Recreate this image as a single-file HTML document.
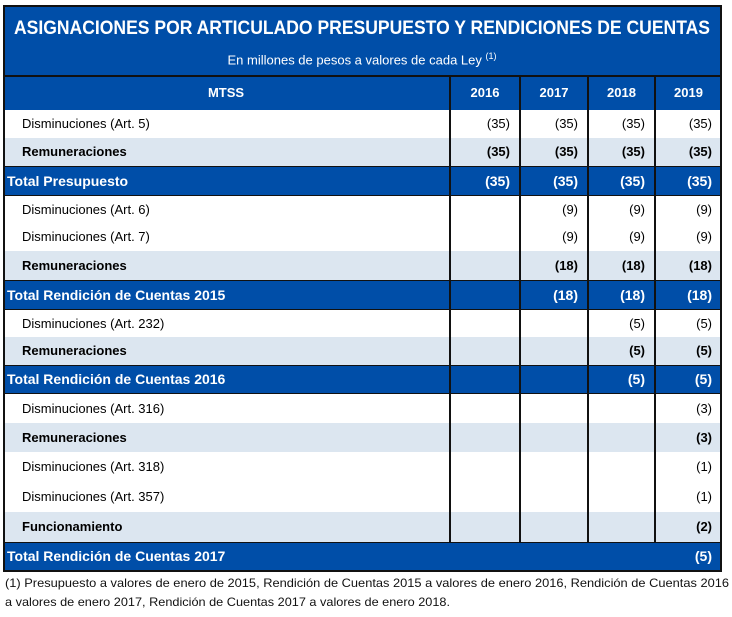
<!DOCTYPE html>
<html><head><meta charset="utf-8">
<style>
body{margin:0;width:732px;height:617px;background:#fff;position:relative;font-family:"Liberation Sans",sans-serif;overflow:hidden}
.a{position:absolute;box-sizing:border-box}
.fit{white-space:nowrap;transform-origin:left center;display:inline-block}
</style></head><body>
<div class="a" style="left:3px;top:5px;width:719px;height:71px;background:#004ea8;border:2px solid #111;border-bottom:none"></div>
<div class="a" style="left:14px;top:16px;height:26px;color:#fff;font-weight:bold;font-size:19px;line-height:26px"><span class="fit" data-w="696">ASIGNACIONES POR ARTICULADO PRESUPUESTO Y RENDICIONES DE CUENTAS</span></div>
<div class="a" style="left:0;width:724px;top:46px;text-align:center;color:#fff;font-size:13px;line-height:20px">En millones de pesos a valores de cada Ley <sup style="font-size:9px">(1)</sup></div>
<div id="tbl"></div>
<div class="a" style="left:5px;top:574px;font-size:12px;line-height:18px;color:#111"><span class="fit" data-w="724">(1) Presupuesto a valores de enero de 2015, Rendición de Cuentas 2015 a valores de enero 2016, Rendición de Cuentas 2016</span></div>
<div class="a" style="left:5px;top:593px;font-size:12px;line-height:18px;color:#111"><span class="fit" data-w="445">a valores de enero 2017, Rendición de Cuentas 2017 a valores de enero 2018.</span></div>
<script>
const colX=[3,449,519,587,654,721];
const years=["2016","2017","2018","2019"];
// type: d=detail, s=subtotal(gray), t=total(blue)
const rowLabels=["Disminuciones (Art. 5)","Remuneraciones","Total Presupuesto","Disminuciones (Art. 6)","Disminuciones (Art. 7)","Remuneraciones","Total Rendición de Cuentas 2015","Disminuciones (Art. 232)","Remuneraciones","Total Rendición de Cuentas 2016","Disminuciones (Art. 316)","Remuneraciones","Disminuciones (Art. 318)","Disminuciones (Art. 357)","Funcionamiento","Total Rendición de Cuentas 2017"];
const rowTypes=["d","s","t","d","d","s","t","d","s","t","d","s","d","d","s","t"];
const rowValues=[[-35,-35,-35,-35],[-35,-35,-35,-35],[-35,-35,-35,-35],[null,-9,-9,-9],[null,-9,-9,-9],[null,-18,-18,-18],[null,-18,-18,-18],[null,null,-5,-5],[null,null,-5,-5],[null,null,-5,-5],[null,null,null,-3],[null,null,null,-3],[null,null,null,-1],[null,null,null,-1],[null,null,null,-2],[null,null,null,-5]];
const rowTops=[110,138,166,196,223,251,280,310,337,365,394,423,452,482,512,542,571];
const tbl=document.getElementById('tbl');
function box(l,t,w,h,css){const d=document.createElement('div');d.className='a';d.style.cssText=`left:${l}px;top:${t}px;width:${w}px;height:${h}px;`+css;tbl.appendChild(d);return d;}
// header
const hb=box(3,75,719,36,'background:#004ea8;border-left:2px solid #111;border-right:2px solid #111;border-top:2px solid #111;border-bottom:1px solid #111');


const hm=box(3,76,446,34,'color:#fff;font-weight:bold;font-size:13px;line-height:34px;text-align:center');
hm.textContent='MTSS';


years.forEach((y,i)=>{const d=box(colX[i+1],76,colX[i+2]-colX[i+1],34,'color:#fff;font-weight:bold;font-size:13px;line-height:34px;text-align:center;border-left:2px solid #111');d.textContent=y;

});
rowLabels.forEach((lab,r)=>{
 const t=rowTops[r],h=rowTops[r+1]-t,ty=rowTypes[r];
 const bg=ty==='t'?'#004ea8':ty==='s'?'#dce6f0':'#fff';
 const col=ty==='t'?'#fff':'#000';
 const bw=ty==='t'?'1px solid #111':'none';
 const row=box(3,t,719,h,`background:${bg};border-left:2px solid #111;border-right:2px solid #111;border-top:${bw};border-bottom:${bw}`);
 
 
 const lb=box(ty==='t'?7:22,t,420,h,`color:${col};font-size:${ty==='t'?14:13}px;font-weight:${ty==='d'?'normal':'bold'};line-height:${h}px;white-space:nowrap`);
 lb.textContent=lab;
 
 
 rowValues[r].forEach((v,i)=>{
  const last=(r===rowLabels.length-1);
  const c=box(colX[i+1],t,colX[i+2]-colX[i+1],h,`color:${col};font-size:${ty==='t'?14:13}px;font-weight:${ty==='d'?'normal':'bold'};line-height:${h}px;text-align:right;padding-right:9px;`+(last?'':'border-left:2px solid #111'));
  c.textContent=v===null?'':'('+Math.abs(v)+')';
  
  
 });
});
const bt=box(3,570,719,2,'background:#111');


document.querySelectorAll('.fit').forEach(s=>{const w=s.getBoundingClientRect().width;const tw=+s.dataset.w;s.style.transform=`scaleX(${tw/w})`;});
</script>
</body></html>
